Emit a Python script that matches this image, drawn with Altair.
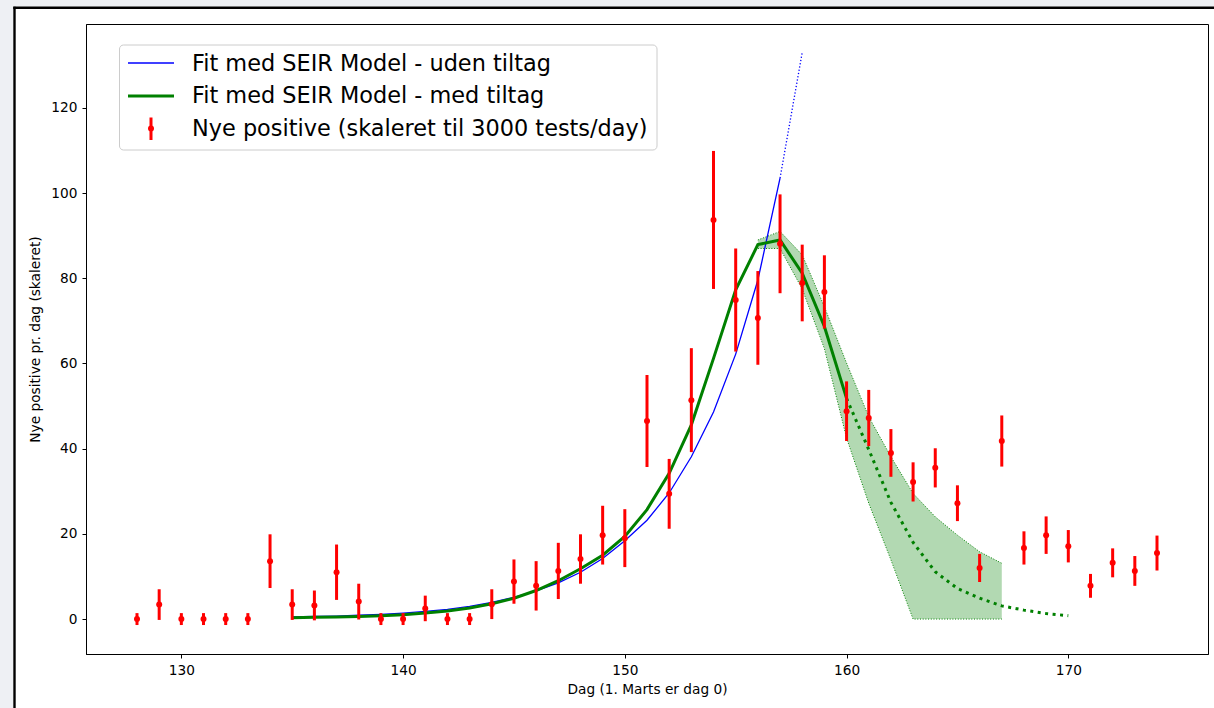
import altair as alt
import pandas as pd

# Observed new positives per day (scaled to 3000 tests/day) and their error bars
days = list(range(128, 175))
nye_positive = [
    0.0, 3.4, 0.0, 0.0, 0.0, 0.0, 13.6, 3.4, 3.2, 11.0,
    4.1, 0.0, 0.0, 2.5, 0.0, 0.0, 3.5, 8.8, 7.8, 11.3,
    14.1, 19.7, 19.0, 46.5, 29.4, 51.4, 93.7, 74.9, 70.7, 88.1,
    78.9, 76.8, 48.8, 47.2, 39.0, 32.2, 35.5, 27.2, 12.0, 41.8,
    16.7, 19.7, 17.1, 7.8, 13.2, 11.3, 15.5,
]
nye_fejl = [
    1.4, 3.6, 1.4, 1.4, 1.4, 1.4, 6.3, 3.6, 3.5, 6.5,
    4.2, 1.4, 1.4, 3.0, 1.4, 1.4, 3.5, 5.2, 5.8, 6.6,
    5.8, 6.9, 6.8, 10.8, 8.2, 12.2, 16.2, 12.1, 11.0, 11.6,
    9.0, 8.6, 7.0, 6.6, 5.6, 4.6, 4.6, 4.2, 3.3, 6.0,
    3.9, 4.4, 3.8, 2.8, 3.4, 3.5, 4.1,
]

# SEIR fit without restrictions (solid), plus its extrapolation (dotted)
fit_uden_dage = list(range(135, 158))
fit_uden = [
    0.5, 0.6, 0.7, 0.9, 1.1, 1.4, 1.8, 2.3, 3.0, 3.9,
    5.1, 6.6, 8.5, 11.0, 14.2, 18.4, 23.2, 29.6, 38.1, 48.6,
    62.2, 79.6, 103.5,
]
fit_uden_ext_dage = [157, 158]
fit_uden_ext = [103.5, 133.0]

# SEIR fit with restrictions (solid) and its forecast (dotted)
fit_med_dage = list(range(135, 161))
fit_med = [
    0.3, 0.4, 0.5, 0.6, 0.8, 1.0, 1.4, 1.9, 2.6, 3.6,
    4.9, 6.7, 9.0, 11.8, 15.0, 19.4, 25.7, 34.2, 45.6, 61.2,
    77.3, 87.9, 89.0, 81.2, 68.7, 51.8,
]
prognose_dage = list(range(160, 171))
prognose = [51.8, 39.8, 27.4, 18.0, 11.1, 7.2, 4.9, 3.1, 2.1, 1.3, 0.8]

# Uncertainty band of the restricted fit
band_dage = list(range(156, 168))
band_hoj = [89.0, 91.0, 85.5, 73.3, 60.1, 47.5, 38.1, 29.5, 24.0, 19.7, 15.8, 13.1]
band_lav = [87.0, 87.0, 77.5, 63.5, 42.5, 27.2, 13.9, 0.0, 0.0, 0.0, 0.0, 0.0]

legend_labels = [
    "Fit med SEIR Model - uden tiltag",
    "Fit med SEIR Model - med tiltag",
    "Nye positive (skaleret til 3000 tests/day)",
]

x_ticks = [130, 140, 150, 160, 170]
y_ticks = [0, 20, 40, 60, 80, 100, 120]

W, H = 1122, 630
FONT = "DejaVu Sans"

xs = alt.Scale(domain=[125.7, 176.3], nice=False, zero=False)
ys = alt.Scale(domain=[-8.2, 139.7], nice=False, zero=False)

x_axis = alt.Axis(
    values=x_ticks,
    title="Dag (1. Marts er dag 0)",
    format="d",
    labelPadding=5,
    titlePadding=6,
)
y_axis = alt.Axis(
    values=y_ticks,
    title="Nye positive pr. dag (skaleret)",
    format="d",
    labelPadding=5,
    titlePadding=8,
)

obs = pd.DataFrame({"dag": days, "v": nye_positive, "e": nye_fejl})
obs["lo"] = obs["v"] - obs["e"]
obs["hi"] = obs["v"] + obs["e"]

uden = pd.DataFrame({"dag": fit_uden_dage, "v": fit_uden})
uden_ext = pd.DataFrame({"dag": fit_uden_ext_dage, "v": fit_uden_ext})
med = pd.DataFrame({"dag": fit_med_dage, "v": fit_med})
prog = pd.DataFrame({"dag": prognose_dage, "v": prognose})
band = pd.DataFrame({"dag": band_dage, "hi": band_hoj, "lo": band_lav})


def X(field="dag:Q"):
    return alt.X(field, scale=xs, axis=x_axis)


def Y(field):
    return alt.Y(field, scale=ys, axis=y_axis)


band_area = alt.Chart(band).mark_area(color="green", opacity=0.3).encode(
    x=X(), y=Y("lo:Q"), y2="hi:Q"
)
band_top = alt.Chart(band).mark_line(
    color="green", strokeWidth=1, strokeDash=[1, 1.7]
).encode(x=X(), y=Y("hi:Q"))
band_bottom = alt.Chart(band).mark_line(
    color="green", strokeWidth=1, strokeDash=[1, 1.7]
).encode(x=X(), y=Y("lo:Q"))

uden_line = alt.Chart(uden).mark_line(color="blue", strokeWidth=1.3).encode(
    x=X(), y=Y("v:Q")
)
uden_dots = alt.Chart(uden_ext).mark_line(
    color="blue", strokeWidth=1.3, strokeDash=[1.3, 2]
).encode(x=X(), y=Y("v:Q"))

med_line = alt.Chart(med).mark_line(color="green", strokeWidth=3).encode(
    x=X(), y=Y("v:Q")
)
prog_dots = alt.Chart(prog).mark_line(
    color="green", strokeWidth=3, strokeDash=[3, 4.5]
).encode(x=X(), y=Y("v:Q"))

err_bars = alt.Chart(obs).mark_rule(color="red", strokeWidth=3).encode(
    x=X(), y=Y("lo:Q"), y2="hi:Q"
)
obs_pts = alt.Chart(obs).mark_circle(color="red", size=36, opacity=1).encode(
    x=X(), y=Y("v:Q")
)

# Legend box drawn in pixel space of the plot area
one = pd.DataFrame({"k": [0]})
leg_box = alt.Chart(one).mark_rect(
    fill="white", fillOpacity=0.85, stroke="#cccccc", strokeWidth=1, cornerRadius=4
).encode(x=alt.value(33.5), x2=alt.value(571), y=alt.value(21), y2=alt.value(126))
leg_blue = alt.Chart(one).mark_rule(color="blue", strokeWidth=1.4).encode(
    x=alt.value(42), x2=alt.value(88), y=alt.value(39)
)
leg_green = alt.Chart(one).mark_rule(color="green", strokeWidth=3).encode(
    x=alt.value(42), x2=alt.value(88), y=alt.value(72)
)
leg_err = alt.Chart(one).mark_rule(color="red", strokeWidth=3).encode(
    x=alt.value(65), y=alt.value(93.5), y2=alt.value(116)
)
leg_pt = alt.Chart(one).mark_circle(color="red", size=36, opacity=1).encode(
    x=alt.value(65), y=alt.value(104.5)
)
leg_texts = [
    alt.Chart(one).mark_text(
        text=label, align="left", baseline="middle", font=FONT, fontSize=22.4, color="black"
    ).encode(x=alt.value(106), y=alt.value(yy))
    for label, yy in zip(legend_labels, [39.5, 72, 104.5])
]

# Outer figure frame
frame_bg = [
    alt.Chart(one).mark_rect(fill="#eef0f4").encode(
        x=alt.value(-86), x2=alt.value(-72.7), y=alt.value(-24), y2=alt.value(H + 60)
    ),
    alt.Chart(one).mark_rect(fill="#eef0f4").encode(
        x=alt.value(-86), x2=alt.value(W + 10), y=alt.value(-24), y2=alt.value(-17.3)
    ),
]
frame_lines = [
    alt.Chart(one).mark_rule(color="black", strokeWidth=2.4).encode(
        x=alt.value(-71.5), y=alt.value(-17.3), y2=alt.value(H + 60)
    ),
    alt.Chart(one).mark_rule(color="black", strokeWidth=2.4).encode(
        x=alt.value(-72.7), x2=alt.value(W + 10), y=alt.value(-16.2)
    ),
]

chart = alt.layer(
    *frame_bg,
    *frame_lines,
    band_area,
    band_top,
    band_bottom,
    uden_line,
    uden_dots,
    med_line,
    prog_dots,
    err_bars,
    obs_pts,
    leg_box,
    leg_blue,
    leg_green,
    leg_err,
    leg_pt,
    *leg_texts,
).properties(
    width=W,
    height=H,
    autosize="none",
    padding={"left": 86, "top": 24, "right": 6, "bottom": 54},
    background="white",
).configure_view(
    stroke="black", strokeWidth=1
).configure_axis(
    grid=False,
    domainColor="black",
    domainWidth=1,
    tickColor="black",
    tickSize=4,
    tickWidth=1,
    labelFont=FONT,
    labelFontSize=13.7,
    labelColor="black",
    titleFont=FONT,
    titleFontSize=13.7,
    titleFontWeight="normal",
    titleColor="black",
)

chart.save("out.html", embed_options={"renderer": "svg", "actions": False})
